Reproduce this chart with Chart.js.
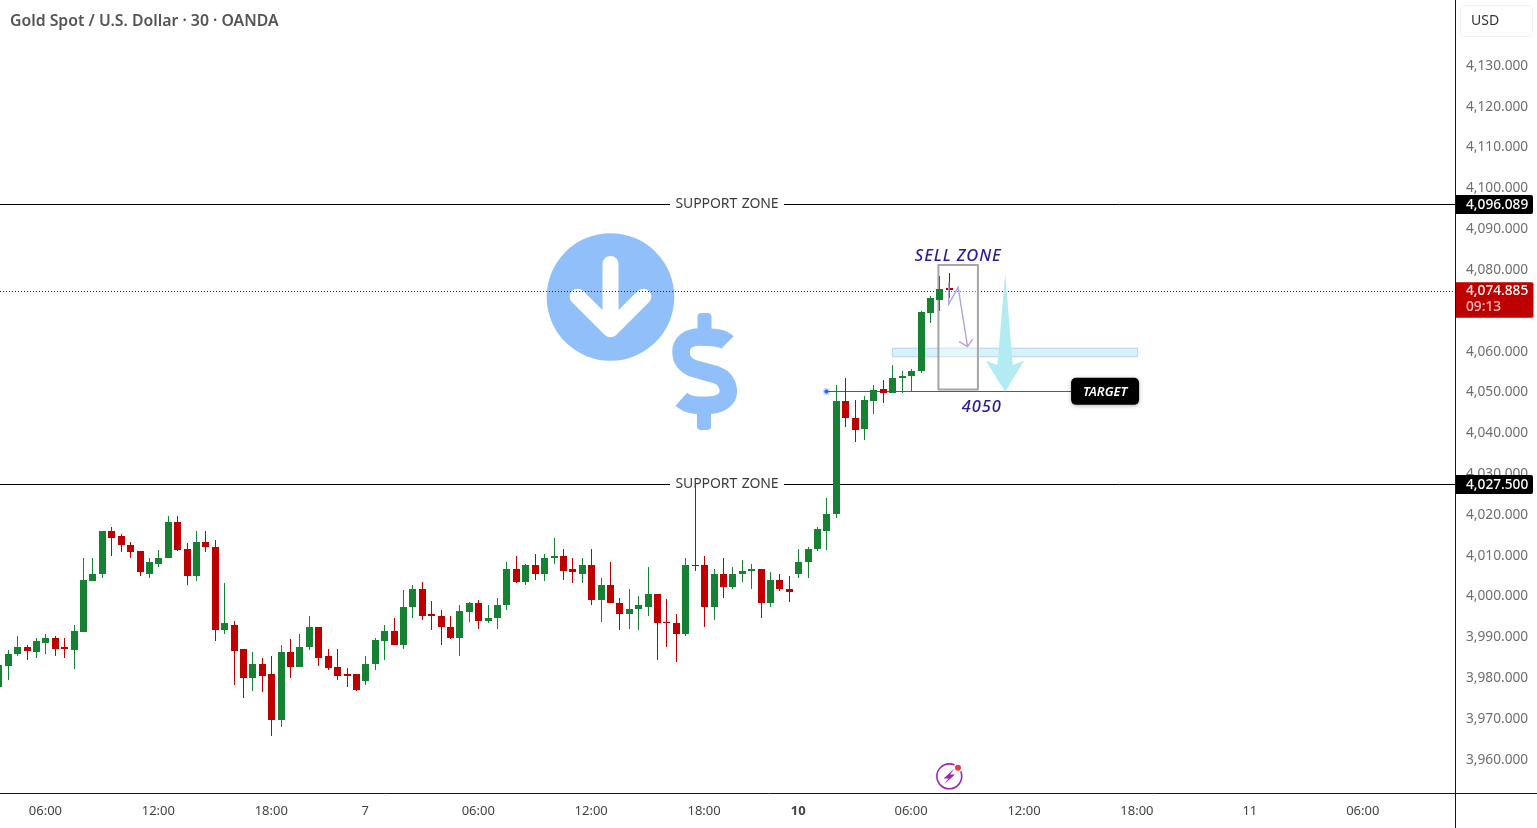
<!DOCTYPE html>
<html>
<head>
<meta charset="utf-8">
<title>Gold Spot / U.S. Dollar</title>
<style>
  html, body { margin: 0; padding: 0; background: #fff; }
  canvas { display: block; }
</style>
<script src="https://cdn.jsdelivr.net/npm/chart.js@4/dist/chart.umd.js"></script>
</head>
<body>
<canvas id="goldChart" width="1537" height="828"></canvas>
<script>
// 30 minute bars, oldest first
var opens = [
  3977.8, 3982.9, 3985.7, 3987.4, 3986.2, 3988.4, 3989.8, 3987.4, 3986.7, 3991.1,
  4003.6, 4005.3, 4015.8, 4014.6, 4012.6, 4010.9, 4005.5, 4007.9, 4009.2, 4018.0,
  4011.4, 4005.0, 4013.3, 4012.1, 3991.6, 3993.0, 3986.9, 3980.0, 3983.4, 3980.8,
  3969.5, 3986.2, 3982.7, 3987.6, 3992.3, 3985.2, 3982.7, 3980.8, 3980.8, 3979.1,
  3983.4, 3988.9, 3991.3, 3988.1, 3997.2, 4001.6, 3995.5, 3995.2, 3992.5, 3989.8,
  3996.0, 3998.2, 3993.8, 3994.5, 3997.7, 4006.7, 4003.3, 4007.7, 4005.3, 4009.4,
  4009.9, 4006.7, 4005.5, 4007.7, 3998.9, 4002.6, 3998.2, 3995.7, 3996.7, 3997.4,
  4000.4, 3993.5, 3993.3, 3990.6, 4007.7, 4007.7, 3997.4, 4005.5, 4002.3, 4005.3,
  4006.0, 4006.5, 3998.2, 4004.0, 4001.8, 4005.3, 4008.2, 4011.4, 4016.0, 4020.0,
  4047.7, 4043.7, 4040.8, 4047.7, 4050.6, 4049.6, 4053.3, 4053.8, 4055.0, 4069.2,
  4072.4, 4075.5
];
var highs = [
  3984.2, 3986.7, 3990.3, 3987.9, 3989.8, 3990.8, 3990.3, 3989.8, 3993.0, 4009.2,
  4009.4, 4016.0, 4016.8, 4015.1, 4013.1, 4010.9, 4009.4, 4011.2, 4019.5, 4019.5,
  4012.9, 4016.0, 4016.0, 4013.8, 4003.1, 3993.8, 3987.1, 3986.2, 3984.7, 3985.4,
  3988.1, 3989.4, 3990.8, 3995.2, 3992.5, 3987.1, 3986.9, 3982.4, 3981.0, 3985.2,
  3989.8, 3992.8, 3994.5, 4001.4, 4002.6, 4003.3, 3998.7, 3996.5, 3995.2, 3997.9,
  3998.4, 3998.9, 3997.7, 3999.6, 4008.4, 4009.9, 4007.9, 4010.2, 4010.2, 4014.1,
  4011.4, 4009.4, 4009.2, 4011.6, 4004.3, 4008.4, 3999.4, 4001.8, 3999.9, 4007.2,
  4000.4, 3999.2, 3995.7, 4009.4, 4027.3, 4009.7, 4006.5, 4009.2, 4007.2, 4008.9,
  4007.9, 4006.7, 4005.8, 4005.3, 4004.8, 4011.4, 4012.1, 4017.0, 4023.9, 4051.8,
  4053.3, 4047.9, 4048.9, 4051.8, 4052.8, 4056.7, 4055.2, 4055.7, 4069.9, 4073.6,
  4078.5, 4079.0
];
var lows = [
  3977.6, 3979.3, 3985.2, 3984.4, 3984.9, 3985.9, 3985.4, 3984.7, 3982.2, 3991.1,
  4003.6, 4004.5, 4009.9, 4010.7, 4009.2, 4005.0, 4004.3, 4007.0, 4009.2, 4010.9,
  4002.8, 4003.6, 4010.7, 3988.9, 3990.8, 3978.1, 3974.9, 3976.6, 3976.4, 3965.6,
  3967.8, 3980.0, 3982.7, 3986.7, 3982.9, 3981.9, 3979.3, 3977.8, 3976.6, 3978.3,
  3981.9, 3984.4, 3987.9, 3987.1, 3994.7, 3994.0, 3991.6, 3987.9, 3989.4, 3985.4,
  3993.5, 3992.0, 3993.3, 3992.0, 3996.5, 4003.1, 4002.6, 4003.8, 4003.6, 4007.9,
  4004.0, 4003.1, 4003.1, 3997.9, 3993.5, 3998.2, 3991.6, 3992.0, 3991.6, 3995.2,
  3984.2, 3987.6, 3983.9, 3990.1, 4006.0, 3992.3, 3994.0, 3999.4, 4001.6, 4003.3,
  4001.8, 3994.5, 3997.2, 4001.1, 3998.4, 4004.5, 4004.3, 4010.9, 4011.2, 4019.0,
  4041.3, 4037.6, 4038.3, 4044.7, 4047.2, 4049.6, 4049.6, 4050.1, 4054.5, 4066.8,
  4069.7, 4072.9
];
var closes = [
  3983.2, 3985.9, 3987.4, 3986.4, 3988.9, 3989.8, 3987.1, 3986.9, 3991.3, 4003.8,
  4005.5, 4015.8, 4014.3, 4012.4, 4010.7, 4005.8, 4008.2, 4009.4, 4018.0, 4011.2,
  4005.0, 4013.3, 4011.9, 3991.6, 3993.3, 3986.4, 3980.0, 3983.4, 3980.5, 3969.5,
  3986.2, 3982.7, 3987.6, 3992.3, 3984.9, 3982.4, 3980.5, 3980.5, 3976.9, 3983.4,
  3989.1, 3991.3, 3988.1, 3997.4, 4001.6, 3995.2, 3995.2, 3992.3, 3989.8, 3996.2,
  3998.2, 3993.8, 3994.7, 3997.9, 4006.7, 4003.3, 4007.7, 4005.3, 4009.4, 4009.9,
  4006.2, 4005.8, 4007.7, 3998.9, 4002.8, 3998.2, 3995.7, 3996.9, 3997.7, 4000.4,
  3993.3, 3993.3, 3990.6, 4007.7, 4007.5, 3997.4, 4005.5, 4002.3, 4005.5, 4006.2,
  4006.5, 3998.2, 4004.0, 4001.6, 4000.9, 4008.4, 4011.6, 4016.3, 4020.2, 4047.7,
  4043.7, 4040.6, 4047.9, 4050.4, 4049.6, 4053.5, 4054.0, 4055.0, 4069.5, 4072.9,
  4075.1, 4074.885
];

var timeTickBars = [5, 17, 29, 39, 51, 63, 75, 85, 97, 109, 121, 133, 145];
var timeTickLabels = ['06:00', '12:00', '18:00', '7', '06:00', '12:00', '18:00', '10', '06:00', '12:00', '18:00', '11', '06:00'];
var priceTicks = [3960, 3970, 3980, 3990, 4000, 4010, 4020, 4030, 4040, 4050, 4060, 4070, 4080, 4090, 4100, 4110, 4120, 4130];

var upperSupport = 4096.089;
var lowerSupport = 4027.5;
var lastPrice = 4074.885;
var targetPrice = 4050;

var UP_COLOR = '#178133';
var DOWN_COLOR = '#bf0000';
var AXIS_COLOR = '#0000c8';
var INK_BLUE = '#2e1a94';
var ICON_BLUE = '#90bffa';
var UI_FONT = '"Noto Sans", sans-serif';

function priceText(value) {
    return value.toLocaleString('en-US', { minimumFractionDigits: 3, maximumFractionDigits: 3 });
}

var bodies = [];
var wicks = [];
var barColors = [];
for (var i = 0; i < opens.length; i++) {
    bodies.push({ x: i, y: [opens[i], closes[i]] });
    wicks.push({ x: i, y: [lows[i], highs[i]] });
    barColors.push(closes[i] >= opens[i] ? UP_COLOR : DOWN_COLOR);
}

function roundedBox(ctx, x, y, w, h, r) {
    ctx.beginPath();
    ctx.roundRect(x, y, w, h, r);
}

// SUPPORT ZONE lines leave a gap round the caption
function drawSupportLine(ctx, chart, price) {
    var y = Math.floor(chart.scales.y.getPixelForValue(price)) + 1.5;
    var area = chart.chartArea;
    ctx.strokeStyle = '#000';
    ctx.lineWidth = 1;
    ctx.beginPath();
    ctx.moveTo(area.left, y);
    ctx.lineTo(670, y);
    ctx.moveTo(784, y);
    ctx.lineTo(area.right, y);
    ctx.stroke();
}

function drawSupportCaption(ctx, chart, price) {
    var y = chart.scales.y.getPixelForValue(price);
    ctx.fillStyle = '#3c3c3c';
    ctx.font = '14px ' + UI_FONT;
    ctx.letterSpacing = '-0.1px';
    ctx.wordSpacing = '1px';
    ctx.textAlign = 'center';
    ctx.textBaseline = 'middle';
    ctx.fillText('SUPPORT ZONE', 727, y + 0.6);
    ctx.letterSpacing = '0px';
    ctx.wordSpacing = '0px';
}

// round badge with a white down arrow, and the dollar sign beside it
function drawDollarIcon(ctx) {
    ctx.fillStyle = ICON_BLUE;
    ctx.beginPath();
    ctx.arc(610.5, 297, 63.8, 0, Math.PI * 2);
    ctx.fill();

    ctx.strokeStyle = '#fff';
    ctx.lineWidth = 16;
    ctx.lineCap = 'round';
    ctx.lineJoin = 'round';
    ctx.beginPath();
    ctx.moveTo(610.5, 264);
    ctx.lineTo(610.5, 329);
    ctx.moveTo(577.7, 296.7);
    ctx.lineTo(610.5, 329.3);
    ctx.lineTo(643.3, 296.7);
    ctx.stroke();

    ctx.fillStyle = ICON_BLUE;
    roundedBox(ctx, 697.5, 313, 14, 30, 4);
    ctx.fill();
    roundedBox(ctx, 697, 400, 14, 30, 4);
    ctx.fill();

    ctx.strokeStyle = ICON_BLUE;
    ctx.lineWidth = 17.5;
    ctx.lineCap = 'butt';
    ctx.beginPath();
    ctx.moveTo(727.5, 342.5);
    ctx.bezierCurveTo(722, 337, 712, 337, 700, 337);
    ctx.bezierCurveTo(688, 337, 681, 343, 681, 351.7);
    ctx.bezierCurveTo(681, 360, 686, 366, 693.3, 368.3);
    ctx.lineTo(716.7, 375);
    ctx.bezierCurveTo(724, 377.5, 728.3, 384, 728.3, 391.7);
    ctx.bezierCurveTo(728.3, 399, 721, 405.3, 706.7, 405.3);
    ctx.bezierCurveTo(698, 405.3, 688.7, 405.9, 681.3, 399.2);
    ctx.stroke();
}

function drawTargetLine(ctx, chart) {
    var sx = chart.scales.x, sy = chart.scales.y;
    var y = Math.floor(sy.getPixelForValue(targetPrice)) + 0.5;
    var x0 = sx.getPixelForValue(88);
    ctx.strokeStyle = '#2a5bd7';
    ctx.lineWidth = 1;
    ctx.beginPath();
    ctx.moveTo(x0, y);
    ctx.lineTo(sx.getPixelForValue(114), y);
    ctx.stroke();
    ctx.fillStyle = 'rgba(41, 98, 255, 0.25)';
    ctx.beginPath();
    ctx.arc(x0, y, 3.5, 0, Math.PI * 2);
    ctx.fill();
    ctx.fillStyle = '#2962ff';
    ctx.beginPath();
    ctx.arc(x0, y, 2, 0, Math.PI * 2);
    ctx.fill();
}

function drawLastPriceLine(ctx, chart) {
    var y = Math.floor(chart.scales.y.getPixelForValue(lastPrice)) + 1.5;
    ctx.strokeStyle = '#8f0000';
    ctx.lineWidth = 1;
    ctx.setLineDash([1, 2]);
    ctx.beginPath();
    ctx.moveTo(chart.chartArea.left, y);
    ctx.lineTo(chart.chartArea.right, y);
    ctx.stroke();
    ctx.setLineDash([]);
}

// pale band and sell box sit under the candles
function drawZones(ctx, chart) {
    var sx = chart.scales.x, sy = chart.scales.y;
    var px = function (v) { return sx.getPixelForValue(v); };
    var py = function (v) { return sy.getPixelForValue(v); };

    ctx.fillStyle = 'rgba(178, 232, 242, 0.5)';
    ctx.fillRect(px(95), py(4060.7), px(121.08) - px(95), py(4058.6) - py(4060.7));
    ctx.strokeStyle = '#b7cffb';
    ctx.lineWidth = 1;
    ctx.strokeRect(px(95), py(4060.7), px(121.08) - px(95), py(4058.6) - py(4060.7));

    ctx.fillStyle = 'rgba(255, 255, 255, 0.35)';
    ctx.fillRect(px(99.9), py(4081.1), px(104.1) - px(99.9), py(4050.6) - py(4081.1));
    ctx.strokeStyle = '#a6a6a6';
    ctx.lineWidth = 2;
    ctx.strokeRect(px(99.9), py(4081.1), px(104.1) - px(99.9), py(4050.6) - py(4081.1));
}

// projected path, target arrow and captions, placed on bar index and price
function drawTradeMarks(ctx, chart) {
    var sx = chart.scales.x, sy = chart.scales.y;
    var px = function (v) { return sx.getPixelForValue(v); };
    var py = function (v) { return sy.getPixelForValue(v); };

    ctx.fillStyle = '#b2ebf2';
    ctx.beginPath();
    ctx.moveTo(px(107), py(4079.05));
    ctx.lineTo(px(107.8), py(4056.6));
    ctx.lineTo(px(109), py(4057.6));
    ctx.lineTo(px(107), py(targetPrice));
    ctx.lineTo(px(104.93), py(4057.6));
    ctx.lineTo(px(106.17), py(4056.6));
    ctx.closePath();
    ctx.fill();

    ctx.strokeStyle = '#b0a5dc';
    ctx.lineWidth = 1.4;
    ctx.lineCap = 'butt';
    ctx.lineJoin = 'miter';
    ctx.beginPath();
    ctx.moveTo(px(101), py(4077));
    ctx.lineTo(px(101), py(4071.5));
    ctx.lineTo(px(102), py(4075.6));
    ctx.lineTo(px(103), py(4061.1));
    ctx.moveTo(px(102.1), py(4062.3));
    ctx.lineTo(px(103), py(4061.1));
    ctx.lineTo(px(103.55), py(4062.9));
    ctx.stroke();

    ctx.fillStyle = INK_BLUE;
    ctx.textAlign = 'center';
    ctx.textBaseline = 'middle';
    ctx.font = 'italic 500 16.5px ' + UI_FONT;
    ctx.letterSpacing = '0.9px';
    ctx.fillText('SELL ZONE', px(102), 256);
    ctx.fillText('4050', px(104.5), py(4046.3));
    ctx.letterSpacing = '0px';

    // TARGET tag
    var tagX = px(114);
    var tagY = py(targetPrice) - 14;
    ctx.save();
    ctx.shadowColor = 'rgba(0, 0, 0, 0.3)';
    ctx.shadowBlur = 4;
    ctx.shadowOffsetY = 1;
    ctx.fillStyle = '#000';
    roundedBox(ctx, tagX, tagY, 68, 27, 5);
    ctx.fill();
    ctx.restore();
    ctx.fillStyle = '#fff';
    ctx.font = 'italic 600 13px ' + UI_FONT;
    ctx.fillText('TARGET', tagX + 34, tagY + 14);
}

function drawPriceTag(ctx, chart, price, bg) {
    var y = Math.floor(chart.scales.y.getPixelForValue(price)) + 1.5;
    ctx.fillStyle = bg;
    roundedBox(ctx, 1456, y - 9.5, 77, 19, [0, 2, 2, 0]);
    ctx.fill();
    ctx.fillStyle = '#fff';
    ctx.font = '500 13.7px ' + UI_FONT;
    ctx.textAlign = 'left';
    ctx.textBaseline = 'middle';
    ctx.fillText(priceText(price), 1466, y + 0.6);
}

function drawChrome(ctx, chart) {
    // axis rules run past the plot into the scale strips
    ctx.strokeStyle = AXIS_COLOR;
    ctx.lineWidth = 1;
    ctx.beginPath();
    ctx.moveTo(1455.5, 0);
    ctx.lineTo(1455.5, 828);
    ctx.moveTo(0, 793.5);
    ctx.lineTo(1537, 793.5);
    ctx.stroke();

    ctx.fillStyle = '#555';
    ctx.font = '600 15.8px ' + UI_FONT;
    ctx.textAlign = 'left';
    ctx.textBaseline = 'middle';
    ctx.fillText('Gold Spot / U.S. Dollar \u00b7 30 \u00b7 OANDA', 10, 21.2);

    // currency button
    ctx.strokeStyle = '#f0f0f0';
    roundedBox(ctx, 1460.5, 5.5, 72, 31, 4);
    ctx.stroke();
    ctx.fillStyle = '#333';
    ctx.font = '14px ' + UI_FONT;
    ctx.fillText('USD', 1471, 21);

    drawPriceTag(ctx, chart, upperSupport, '#000');
    drawPriceTag(ctx, chart, lowerSupport, '#000');

    // last price tag with the bar countdown
    var y = chart.scales.y.getPixelForValue(lastPrice);
    ctx.fillStyle = DOWN_COLOR;
    roundedBox(ctx, 1456, y - 8, 77.5, 35.5, [0, 2, 2, 0]);
    ctx.fill();
    ctx.fillStyle = '#fff';
    ctx.font = '500 13.7px ' + UI_FONT;
    ctx.fillText(priceText(lastPrice), 1466, y + 1);
    ctx.fillStyle = 'rgba(255, 255, 255, 0.75)';
    ctx.fillText('09:13', 1466, y + 17);

    // flash badge above the time scale
    ctx.strokeStyle = '#9c27b0';
    ctx.lineWidth = 1.6;
    ctx.beginPath();
    ctx.arc(949.3, 776.3, 12.4, 0, Math.PI * 2);
    ctx.stroke();
    ctx.fillStyle = '#9c27b0';
    ctx.beginPath();
    ctx.moveTo(954.5, 768.5);
    ctx.lineTo(943.5, 778.5);
    ctx.lineTo(948.5, 778.5);
    ctx.lineTo(944.5, 784);
    ctx.lineTo(955, 774.5);
    ctx.lineTo(950, 774.5);
    ctx.closePath();
    ctx.fill();
    ctx.fillStyle = '#fff';
    ctx.beginPath();
    ctx.arc(958, 767.7, 4.5, 0, Math.PI * 2);
    ctx.fill();
    ctx.fillStyle = '#f23645';
    ctx.beginPath();
    ctx.arc(958, 767.7, 3, 0, Math.PI * 2);
    ctx.fill();
}

var overlayPlugin = {
    id: 'overlay',
    beforeDatasetsDraw: function (chart) {
        // keep candles on whole pixels
        chart.getSortedVisibleDatasetMetas().forEach(function (meta) {
            meta.data.forEach(function (bar) {
                bar.x = Math.round(bar.x) + 0.5;
                bar.y = Math.round(bar.y);
                bar.base = Math.round(bar.base);
                if (bar.y === bar.base) {
                    bar.base = bar.y + 1;
                }
            });
        });
        var ctx = chart.ctx;
        ctx.save();
        drawSupportLine(ctx, chart, upperSupport);
        drawSupportLine(ctx, chart, lowerSupport);
        drawDollarIcon(ctx);
        drawLastPriceLine(ctx, chart);
        drawZones(ctx, chart);
        drawTargetLine(ctx, chart);
        ctx.restore();
    },
    afterDatasetsDraw: function (chart) {
        var ctx = chart.ctx;
        ctx.save();
        drawSupportCaption(ctx, chart, upperSupport);
        drawSupportCaption(ctx, chart, lowerSupport);
        drawTradeMarks(ctx, chart);
        ctx.restore();
    },
    afterDraw: function (chart) {
        var ctx = chart.ctx;
        ctx.save();
        drawChrome(ctx, chart);
        ctx.restore();
    }
};

var ctx = document.getElementById('goldChart').getContext('2d');
window.goldChart = new Chart(ctx, {
    type: 'bar',
    data: {
        datasets: [{
            label: 'Body',
            data: bodies,
            backgroundColor: barColors,
            barThickness: 7,
            grouped: false,
            inflateAmount: 0,
            borderWidth: 0
        }, {
            label: 'Wick',
            data: wicks,
            backgroundColor: barColors,
            barThickness: 1,
            grouped: false,
            inflateAmount: 0,
            borderWidth: 0
        }]
    },
    plugins: [overlayPlugin],
    options: {
        responsive: false,
        animation: false,
        devicePixelRatio: 1,
        layout: { padding: 0 },
        plugins: {
            legend: { display: false },
            tooltip: { enabled: false }
        },
        scales: {
            x: {
                type: 'linear',
                min: 0.175,
                max: 154.8,
                offset: false,
                grid: { display: false, drawTicks: false },
                border: { display: false },
                afterBuildTicks: function (scale) {
                    scale.ticks = timeTickBars.map(function (v) { return { value: v }; });
                },
                afterFit: function (scale) {
                    scale.height = 35;
                    scale.paddingLeft = 0;
                    scale.paddingRight = 0;
                },
                ticks: {
                    autoSkip: false,
                    maxRotation: 0,
                    padding: 10,
                    color: '#444',
                    font: function (c) {
                        var bold = c.tick && c.tick.value === 85;
                        return { family: UI_FONT, size: 13, weight: bold ? '700' : '400' };
                    },
                    callback: function (value) {
                        return timeTickLabels[timeTickBars.indexOf(value)];
                    }
                }
            },
            y: {
                position: 'right',
                min: 3951.73,
                max: 4146,
                grid: { display: false, drawTicks: false },
                border: { display: false },
                afterBuildTicks: function (scale) {
                    scale.ticks = priceTicks.map(function (v) { return { value: v }; });
                },
                afterFit: function (scale) {
                    scale.width = 82;
                    scale.paddingTop = 0;
                    scale.paddingBottom = 0;
                },
                ticks: {
                    padding: 11,
                    labelOffset: 0.6,
                    color: '#6e6e6e',
                    font: { family: UI_FONT, size: 13.7 },
                    callback: function (value) { return priceText(value); }
                }
            }
        }
    }
});
</script>
</body>
</html>
